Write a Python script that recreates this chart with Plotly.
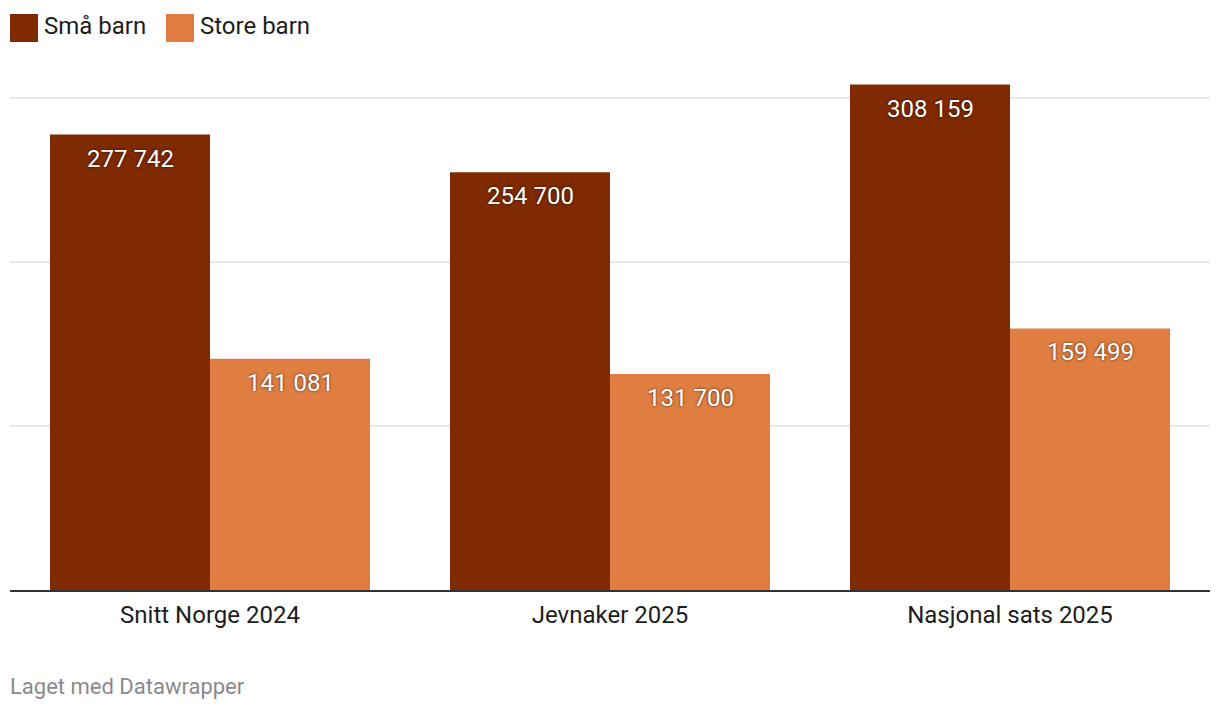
import plotly.graph_objects as go

categories = ["Snitt Norge 2024", "Jevnaker 2025", "Nasjonal sats 2025"]
series_names = ["Små barn", "Store barn"]
small_children = [277742, 254700, 308159]
large_children = [141081, 131700, 159499]
colors = ["#7f2a00", "#e07e42"]

def fmt(v):
    return f"{v:,}".replace(",", " ")

fig = go.Figure()
for name, vals, col in zip(series_names, [small_children, large_children], colors):
    fig.add_trace(go.Bar(x=categories, y=vals, name=name, marker=dict(color=col, line=dict(width=0)),
                         showlegend=False, hoverinfo="skip"))

annotations = []
for vals, shift in [(small_children, -80), (large_children, 80)]:
    for c, v in zip(categories, vals):
        annotations.append(dict(x=c, y=v, xref="x", yref="y", text=fmt(v), showarrow=False,
                                xshift=shift, yanchor="top", yshift=-8,
                                font=dict(family="Roboto", size=24, color="white",
                                          shadow="0px 0px 3px rgba(0,0,0,0.7)")))

# manual legend
legend_x = [0, 156]
for name, col, lx in zip(series_names, colors, legend_x):
    fig.add_shape(type="rect", xref="paper", yref="paper", xsizemode="pixel", ysizemode="pixel",
                  xanchor=0, yanchor=1, x0=lx, x1=lx + 28, y0=38, y1=66,
                  fillcolor=col, line=dict(width=0))
    annotations.append(dict(x=0, y=1, xref="paper", yref="paper", xshift=lx + 32, yshift=54,
                            xanchor="left", yanchor="middle", text=name, showarrow=False,
                            font=dict(family="Roboto", size=24, color="#1d1d1d")))

annotations.append(dict(x=0, y=0, xref="paper", yref="paper", xanchor="left", yanchor="middle",
                        xshift=-2, yshift=-96, text="Laget med Datawrapper", showarrow=False,
                        font=dict(family="Roboto", size=22, color="#8a8a8a")))

fig.update_layout(
    width=1220, height=712,
    margin=dict(l=10, r=10, t=80, b=122),
    paper_bgcolor="white", plot_bgcolor="white",
    barmode="group", bargap=0.2, bargroupgap=0,
    font=dict(family="Roboto", size=24, color="#1d1d1d"),
    annotations=annotations,
    xaxis=dict(showline=True, linecolor="#333333", linewidth=2, ticks="outside", ticklen=2,
               tickcolor="rgba(0,0,0,0)", tickfont=dict(family="Roboto", size=24, color="#1d1d1d"),
               showgrid=False),
    yaxis=dict(range=[0, 310976], tickvals=[100000, 200000, 300000], showticklabels=False,
               showgrid=True, gridcolor="#e6e6e6", gridwidth=2, zeroline=False),
)

fig.write_html("out.html")
